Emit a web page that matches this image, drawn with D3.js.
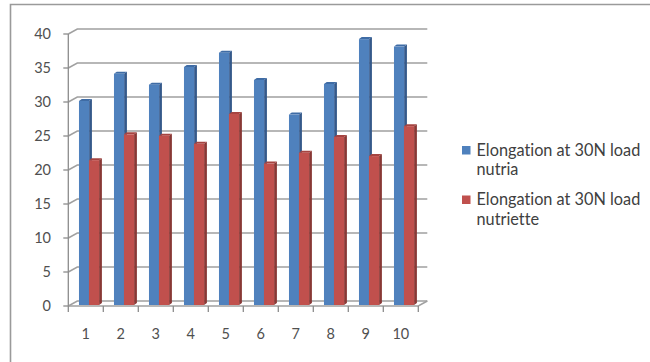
<!DOCTYPE html>
<html>
<head>
<meta charset="utf-8">
<script src="https://cdn.jsdelivr.net/npm/d3@7/dist/d3.min.js"></script>
<style>
  html, body { margin: 0; padding: 0; background: #fff; }
  svg { display: block; }
  text { font-variant-ligatures: none; }
</style>
</head>
<body>
<svg id="chart" width="650" height="362"></svg>
<script>
// Sample numbers and the two measured series
const categories = ["1", "2", "3", "4", "5", "6", "7", "8", "9", "10"];
const nutria     = [30, 34, 32.4, 35, 37.1, 33.1, 28, 32.5, 39.1, 38];
const nutriette  = [21.3, 25.1, 24.9, 23.7, 28.1, 20.8, 22.4, 24.7, 21.9, 26.3];
const yTicks     = [0, 5, 10, 15, 20, 25, 30, 35, 40];
const seriesNames = [
  ["Elongation at 30N load", "nutria"],
  ["Elongation at 30N load", "nutriette"]
];

const svg = d3.select("#chart");
const font = "Lato, 'Open Sans', 'Liberation Sans', sans-serif";

// Oblique projection: the back wall sits up and to the right of the front axis
const depthX = 9, depthY = -5;
const left = 68.3, right = 418.3, baseY = 306, topY = 34;

const x = d3.scaleBand().domain(categories).range([left, right]);
const y = d3.scaleLinear().domain([0, 40]).range([baseY, topY]);

// Chart frame
svg.append("rect").attr("width", 650).attr("height", 362).attr("fill", "#fff");
svg.append("path")
  .attr("d", "M10.5,362 L10.5,4.5 L650,4.5")
  .attr("fill", "none").attr("stroke", "#9a9a9a").attr("stroke-width", 1.6);

const grid = svg.append("g").attr("stroke", "#a0a0a0").attr("stroke-width", 1.5).attr("fill", "none");

// Back-wall gridlines with their side-wall diagonals
yTicks.forEach(t => {
  const yy = y(t);
  grid.append("path")
    .attr("d", `M${left},${yy} L${left + depthX},${yy + depthY} L${right + depthX},${yy + depthY}`);
});

// Floor front edge and right-hand edge
grid.append("path").attr("d", `M${left},${baseY} L${right},${baseY} L${right + depthX},${baseY + depthY}`);

// Value axis
const axisG = svg.append("g").attr("stroke", "#8c8c8c").attr("stroke-width", 1.3);
axisG.append("line").attr("x1", left).attr("x2", left).attr("y1", y(40)).attr("y2", y(0));
yTicks.forEach(t => {
  axisG.append("line").attr("x1", left - 5).attr("x2", left).attr("y1", y(t)).attr("y2", y(t));
});
// Category ticks
d3.range(categories.length + 1).forEach(i => {
  const xx = left + i * x.bandwidth();
  axisG.append("line").attr("x1", xx).attr("x2", xx).attr("y1", baseY).attr("y2", baseY + 6);
});

// Value labels
svg.append("g").selectAll("text").data(yTicks).join("text")
  .attr("x", 51).attr("y", d => y(d)).attr("dy", "0.36em")
  .attr("text-anchor", "end")
  .attr("font-family", font).attr("font-size", 14.5).attr("fill", "#505050")
  .text(d => d);

// Category labels
svg.append("g").selectAll("text").data(categories).join("text")
  .attr("x", d => x(d) + x.bandwidth() / 2).attr("y", 339)
  .attr("text-anchor", "middle")
  .attr("font-family", font).attr("font-size", 14.5).attr("fill", "#505050")
  .text(d => d);

// 3D columns: front face, right side and top
const barDX = 2.8, barDY = -2;
const bw = x.bandwidth();
const seriesDefs = [
  { values: nutria,    offset: 0.305, front: "#4f81bd", side: "#35598a", top: "#3f6ca5" },
  { values: nutriette, offset: 0.59,  front: "#c0504d", side: "#883835", top: "#a54441" }
];

seriesDefs.forEach(s => {
  const g = svg.append("g");
  categories.forEach((c, i) => {
    const x0 = x(c) + bw * s.offset;
    const w = bw * 0.29;
    const yTop = y(s.values[i]) - 1;
    const yBot = baseY - 1;
    g.append("path")
      .attr("d", `M${x0 + w},${yTop} L${x0 + w + barDX},${yTop + barDY} L${x0 + w + barDX},${yBot + barDY} L${x0 + w},${yBot} Z`)
      .attr("fill", s.side);
    g.append("path")
      .attr("d", `M${x0},${yTop} L${x0 + barDX},${yTop + barDY} L${x0 + w + barDX},${yTop + barDY} L${x0 + w},${yTop} Z`)
      .attr("fill", s.top);
    g.append("rect")
      .attr("x", x0).attr("y", yTop).attr("width", w).attr("height", yBot - yTop)
      .attr("fill", s.front);
  });
});

// Legend: size the type so the first line spans the legend column
const legendColors = ["#4f81bd", "#c0504d"];
const legendX = 476.5, legendWidth = 164;
const probe = svg.append("text").attr("font-family", font).attr("font-size", 14)
  .text(seriesNames[0][0]);
const legendSize = 14 * legendWidth / probe.node().getComputedTextLength();
probe.remove();

const legend = svg.append("g");
seriesNames.forEach((lines, i) => {
  const top = 146 + i * 49.5;
  legend.append("rect")
    .attr("x", 462).attr("y", top).attr("width", 8.5).attr("height", 8.5)
    .attr("fill", legendColors[i]);
  lines.forEach((ln, j) => {
    legend.append("text")
      .attr("x", legendX).attr("y", top + 9.5 + j * 19.5)
      .attr("font-family", font).attr("font-size", legendSize).attr("fill", "#404040")
      .text(ln);
  });
});
</script>
</body>
</html>
